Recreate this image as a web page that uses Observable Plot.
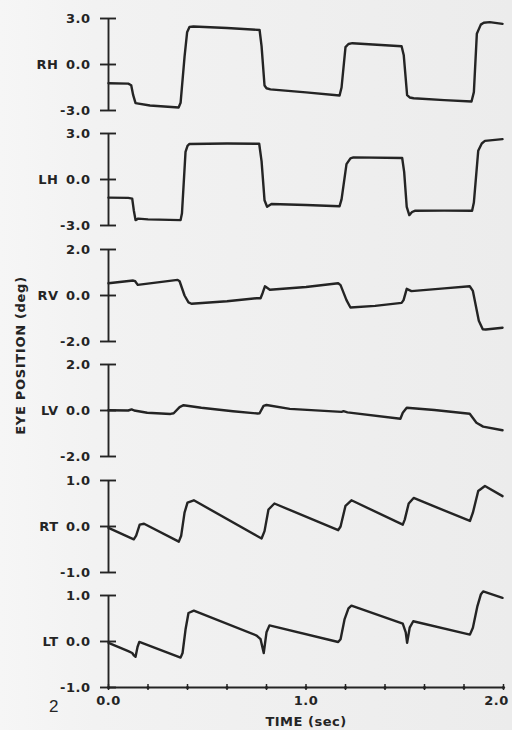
<!DOCTYPE html>
<html>
<head>
<meta charset="utf-8">
<script src="https://cdn.jsdelivr.net/npm/d3@7"></script>
<script src="https://cdn.jsdelivr.net/npm/@observablehq/plot@0.6"></script>
<style>
  html, body { margin: 0; padding: 0; background: #eeeeee; }
  #wrap { position: relative; width: 512px; height: 730px; overflow: hidden;
          background: linear-gradient(to right, #f6f6f6 0px, #f2f2f2 95px, #ececec 512px);
          font-family: "DejaVu Sans", sans-serif; color: #242424; }
  #wrap svg { position: absolute; left: 0; overflow: visible; }
  #ytitle { position: absolute; left: -80px; top: 348px; width: 200px; text-align: center;
            transform: rotate(-90deg); font-weight: bold; font-size: 13px; letter-spacing: 0.7px; }
  #pagenum { position: absolute; left: 49px; top: 697px; font-family: "Liberation Sans", sans-serif;
             font-size: 17px; }
</style>
</head>
<body>
<div id="wrap">
  <div id="ytitle">EYE POSITION (deg)</div>
  <div id="pagenum">2</div>
</div>
<script>
// ---- data ----
const channels = ["RH", "LH", "RV", "LV", "RT", "LT"];
const yLimits = [3, 3, 2, 2, 1, 1];
const timeTicks = [0, 0.2, 0.4, 0.6, 0.8, 1.0, 1.2, 1.4, 1.6, 1.8, 2.0];
const timeLabels = [0, 1];
const timeLabelEnd = [2];

const rhT = [0, 0.10, 0.115, 0.125, 0.137, 0.21, 0.355, 0.365, 0.385, 0.398, 0.41, 0.43, 0.60, 0.765, 0.775, 0.79, 0.80, 0.82, 1.0, 1.17, 1.18, 1.20, 1.215, 1.235, 1.484, 1.495, 1.512, 1.525, 1.545, 1.70, 1.838, 1.85, 1.865, 1.885, 1.90, 1.93, 1.995];
const rhV = [-1.22, -1.25, -1.35, -2.0, -2.52, -2.67, -2.8, -2.5, 0.5, 2.1, 2.45, 2.48, 2.38, 2.25, 1.2, -1.37, -1.55, -1.62, -1.82, -2.02, -1.5, 1.13, 1.34, 1.39, 1.19, 0.6, -2.0, -2.15, -2.2, -2.32, -2.41, -1.8, 2.0, 2.6, 2.72, 2.76, 2.65];

const lhT = [0, 0.10, 0.12, 0.128, 0.137, 0.15, 0.20, 0.365, 0.372, 0.39, 0.40, 0.41, 0.60, 0.763, 0.775, 0.79, 0.803, 0.825, 1.0, 1.17, 1.18, 1.205, 1.225, 1.24, 1.487, 1.497, 1.51, 1.523, 1.537, 1.551, 1.70, 1.841, 1.85, 1.872, 1.89, 1.906, 1.995];
const lhV = [-1.18, -1.2, -1.25, -2.0, -2.65, -2.55, -2.6, -2.65, -2.2, 1.8, 2.2, 2.32, 2.35, 2.33, 1.2, -1.35, -1.78, -1.6, -1.66, -1.74, -1.3, 1.0, 1.38, 1.44, 1.40, 0.5, -1.78, -2.32, -2.12, -2.04, -2.03, -2.04, -1.5, 1.87, 2.35, 2.52, 2.63];

const rvT = [0, 0.125, 0.135, 0.148, 0.35, 0.36, 0.385, 0.405, 0.42, 0.60, 0.75, 0.77, 0.78, 0.792, 0.817, 1.0, 1.163, 1.175, 1.205, 1.225, 1.35, 1.484, 1.494, 1.51, 1.534, 1.70, 1.829, 1.845, 1.875, 1.895, 1.91, 1.995];
const rvV = [0.53, 0.65, 0.62, 0.46, 0.68, 0.62, 0.0, -0.3, -0.36, -0.25, -0.12, -0.12, 0.1, 0.40, 0.25, 0.37, 0.53, 0.45, -0.2, -0.52, -0.45, -0.32, -0.2, 0.29, 0.19, 0.31, 0.40, 0.2, -1.1, -1.47, -1.48, -1.4];

const lvT = [0, 0.10, 0.117, 0.13, 0.196, 0.314, 0.33, 0.36, 0.38, 0.47, 0.63, 0.755, 0.765, 0.785, 0.80, 0.918, 1.18, 1.19, 1.21, 1.478, 1.49, 1.51, 1.65, 1.829, 1.863, 1.897, 1.995];
const lvV = [0.01, 0.0, 0.05, 0.0, -0.1, -0.15, -0.12, 0.15, 0.23, 0.12, -0.03, -0.13, -0.12, 0.2, 0.24, 0.07, -0.06, -0.03, -0.08, -0.36, -0.1, 0.12, 0.02, -0.14, -0.53, -0.7, -0.86];

const rtT = [0, 0.128, 0.14, 0.158, 0.18, 0.356, 0.368, 0.385, 0.40, 0.432, 0.75, 0.775, 0.79, 0.81, 0.84, 1.163, 1.175, 1.2, 1.23, 1.49, 1.50, 1.52, 1.545, 1.83, 1.845, 1.872, 1.906, 1.995];
const rtV = [-0.03, -0.28, -0.2, 0.04, 0.06, -0.33, -0.2, 0.3, 0.52, 0.57, -0.2, -0.26, -0.1, 0.37, 0.5, -0.08, 0.0, 0.45, 0.57, 0.04, 0.15, 0.5, 0.62, 0.12, 0.3, 0.77, 0.88, 0.66];

const ltT = [0, 0.10, 0.12, 0.128, 0.137, 0.147, 0.156, 0.365, 0.375, 0.39, 0.405, 0.432, 0.75, 0.77, 0.786, 0.80, 0.815, 1.163, 1.175, 1.195, 1.215, 1.23, 1.49, 1.505, 1.512, 1.525, 1.543, 1.83, 1.845, 1.868, 1.885, 1.897, 1.995];
const ltV = [-0.03, -0.21, -0.25, -0.3, -0.33, -0.12, -0.01, -0.35, -0.25, 0.26, 0.62, 0.67, 0.13, 0.05, -0.25, 0.2, 0.35, -0.01, 0.05, 0.48, 0.72, 0.78, 0.39, 0.2, -0.03, 0.3, 0.44, 0.15, 0.3, 0.77, 1.02, 1.09, 0.95];

// ---- layout ----
const tracesT = [rhT, lhT, rvT, lvT, rtT, ltT];
const tracesV = [rhV, lhV, rvV, lvV, rtV, ltV];
const ink = "#242424";
const firstTop = 18, panelStep = 115.4, panelH = 92;
const wrap = document.getElementById("wrap");
const fmt = d => d.toFixed(1);

channels.forEach((name, i) => {
  const last = i === channels.length - 1;
  const mt = 10, mb = last ? 43 : 12;
  const lim = yLimits[i];
  const data = tracesT[i].map((t, k) => ({t, v: tracesV[i][k]}));
  const marks = [
    Plot.ruleX([0], {stroke: ink, strokeWidth: 1.9}),
    Plot.axisY({ticks: [-lim, 0, lim], tickSize: 16, dx: 8, tickPadding: 10,
                tickFormat: fmt, color: ink, strokeWidth: 1.9, label: null}),
    Plot.text([name], {y: [0], text: d => d, frameAnchor: "left", textAnchor: "end", dx: -50, fill: ink}),
    Plot.line(data, {x: "t", y: "v", stroke: ink, strokeWidth: 2.4, strokeLinejoin: "round", strokeLinecap: "round"})
  ];
  if (last) {
    marks.push(
      Plot.ruleY([-lim], {stroke: ink, strokeWidth: 1.9}),
      Plot.axisX({ticks: timeTicks, tickSize: 6, dy: -3, tickFormat: () => "", color: ink, strokeWidth: 1.5, label: null}),
      Plot.dot(timeTicks, {x: d => d, y: () => -lim, r: 1.6, fill: ink}),
      Plot.axisX({ticks: timeLabels, tickSize: 0, tickPadding: 8, tickFormat: fmt, color: ink,
                  label: "TIME (sec)", labelAnchor: "center", labelOffset: 38, labelArrow: "none"}),
      Plot.axisX({ticks: timeLabelEnd, tickSize: 0, tickPadding: 8, tickFormat: fmt, color: ink,
                  dx: -7, label: null})
    );
  }
  const svg = Plot.plot({
    width: 512,
    height: mt + panelH + mb,
    marginLeft: 108, marginRight: 9, marginTop: mt, marginBottom: mb,
    x: {domain: [0, 2], axis: null},
    y: {domain: [-lim, lim], axis: null},
    style: {background: "transparent", fontFamily: '"DejaVu Sans", sans-serif', fontSize: "13px",
            fontWeight: "bold", color: ink, letterSpacing: "0.5px", overflow: "visible"},
    marks
  });
  svg.style.top = (firstTop + Math.round(i * panelStep) - mt) + "px";
  wrap.appendChild(svg);
});
</script>
</body>
</html>
